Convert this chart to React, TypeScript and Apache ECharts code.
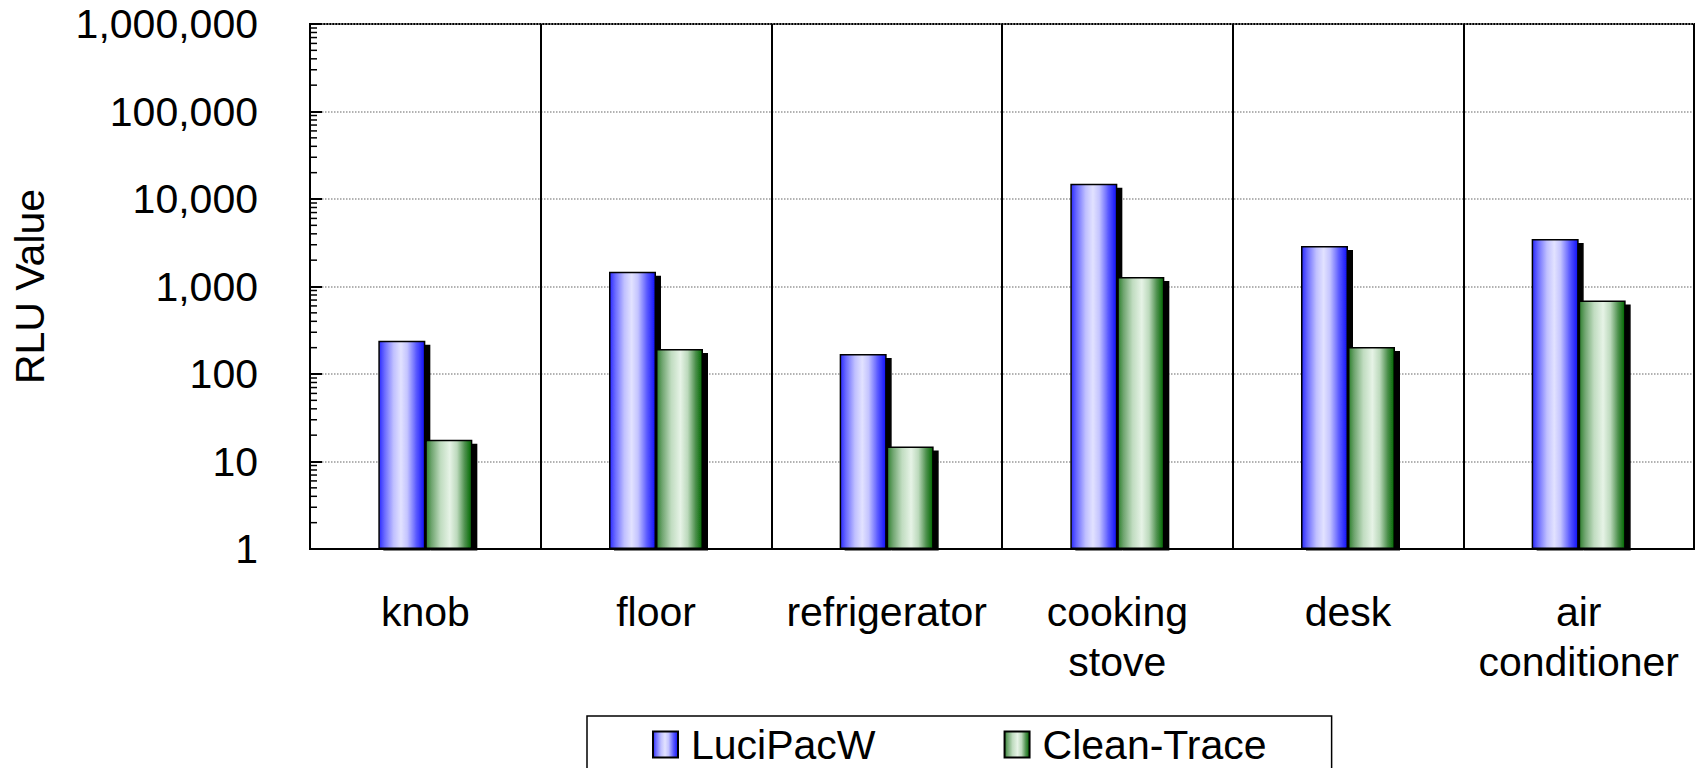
import React, { useEffect, useRef } from "react";
import * as echarts from "echarts";

const categories = ["knob", "floor", "refrigerator", "cooking\nstove", "desk", "air\nconditioner"];
const luciPacW = [240, 1470, 169, 14900, 2900, 3500];
const cleanTrace = [17.7, 193, 14.8, 1285, 203, 690];
const seriesNames = ["LuciPacW", "Clean-Trace"];
const yMin = 1;
const yMax = 1000000;

const FONT = "'Liberation Sans', Arial, sans-serif";

function blueGrad() {
  return new echarts.graphic.LinearGradient(0, 0, 1, 0, [
    { offset: 0, color: "#2a2aff" },
    { offset: 0.12, color: "#6a6aff" },
    { offset: 0.32, color: "#c0c0ff" },
    { offset: 0.48, color: "#e2e2ff" },
    { offset: 0.62, color: "#c4c4ff" },
    { offset: 0.82, color: "#5a5aff" },
    { offset: 1, color: "#1010f8" },
  ]);
}
function greenGrad() {
  return new echarts.graphic.LinearGradient(0, 0, 1, 0, [
    { offset: 0, color: "#2e802e" },
    { offset: 0.12, color: "#6fa56f" },
    { offset: 0.32, color: "#c0dcc0" },
    { offset: 0.52, color: "#e6f3e6" },
    { offset: 0.68, color: "#bcd9bc" },
    { offset: 0.85, color: "#4e914e" },
    { offset: 1, color: "#006800" },
  ]);
}

export default function App() {
  const ref = useRef<HTMLDivElement>(null);
  useEffect(() => {
    if (!ref.current) return;
    const chart = echarts.init(ref.current, null, { renderer: "svg" });
    const minorTicks: number[][] = [];
    for (let d = yMin; d < yMax; d *= 10) {
      for (let m = 2; m <= 9; m++) minorTicks.push([0, m * d]);
    }
    const barStyle = (grad: any) => ({
      color: grad,
      borderColor: "#000",
      borderWidth: 1.5,
      shadowColor: "#000",
      shadowBlur: 0,
      shadowOffsetX: 5,
      shadowOffsetY: 4,
    });
    chart.setOption({
      animation: false,
      backgroundColor: "#fff",
      grid: {
        left: 310,
        top: 24,
        right: 10,
        bottom: 219,
        show: true,
        borderColor: "#000",
        borderWidth: 2,
        backgroundColor: "transparent",
      },
      graphic: [
        {
          type: "rect",
          left: 312,
          top: 550.5,
          z: 5,
          shape: { width: 1380, height: 6 },
          style: { fill: "#fff" },
          silent: true,
        },
      ],
      legend: {
        data: seriesNames,
        left: 587,
        top: 716,
        orient: "horizontal",
        icon: "rect",
        itemWidth: 25,
        itemHeight: 26,
        itemGap: 128,
        padding: [8, 65, 40, 65],
        borderColor: "#000",
        borderWidth: 1.5,
        itemStyle: { shadowColor: "transparent", shadowOffsetX: 0, shadowOffsetY: 0 },
        textStyle: { fontSize: 41, fontFamily: FONT, color: "#000", padding: [0, 0, 0, 8] },
      },
      xAxis: {
        type: "category",
        data: categories,
        boundaryGap: true,
        z: 20,
        axisLine: { lineStyle: { color: "#000", width: 2 } },
        axisTick: { show: false },
        axisLabel: {
          interval: 0,
          margin: 38,
          fontSize: 41,
          lineHeight: 50,
          color: "#000",
          fontFamily: FONT,
        },
        splitLine: { show: true, interval: 0, lineStyle: { color: "#000", width: 2 } },
      },
      yAxis: {
        type: "log",
        logBase: 10,
        min: yMin,
        max: yMax,
        name: "RLU Value",
        nameLocation: "middle",
        nameGap: 260,
        nameTextStyle: { fontSize: 41, fontFamily: FONT, color: "#000" },
        axisLine: { show: true, lineStyle: { color: "#000", width: 2 } },
        axisTick: { show: true, inside: true, length: 12, lineStyle: { color: "#000", width: 2 } },
        axisLabel: {
          margin: 52,
          fontSize: 41,
          color: "#000",
          fontFamily: FONT,
          formatter: (v: number) => Math.round(v).toLocaleString("en-US"),
        },
        splitLine: { show: true, lineStyle: { color: "#999", width: 1.5, type: "dotted" } },
      },
      series: [
        {
          name: seriesNames[0],
          type: "bar",
          data: luciPacW,
          barWidth: 47,
          barGap: "0%",
          itemStyle: barStyle(blueGrad()),
        },
        {
          name: seriesNames[1],
          type: "bar",
          data: cleanTrace,
          barWidth: 47,
          barGap: "0%",
          itemStyle: barStyle(greenGrad()),
        },
        {
          name: "minorTicks",
          type: "custom",
          silent: true,
          z: 10,
          clip: false,
          data: minorTicks,
          encode: { x: 0, y: 1 },
          renderItem: (params: any, api: any) => {
            const y = api.coord([0, api.value(1)])[1];
            const cs = params.coordSys;
            return {
              type: "line",
              shape: { x1: cs.x, y1: y, x2: cs.x + 7, y2: y },
              style: { stroke: "#000", lineWidth: 1.5 },
            };
          },
        },
      ],
    });
    return () => chart.dispose();
  }, []);
  return (
    <div
      ref={ref}
      style={{ position: "absolute", left: 0, top: 0, width: 1704, height: 768 }}
    />
  );
}
